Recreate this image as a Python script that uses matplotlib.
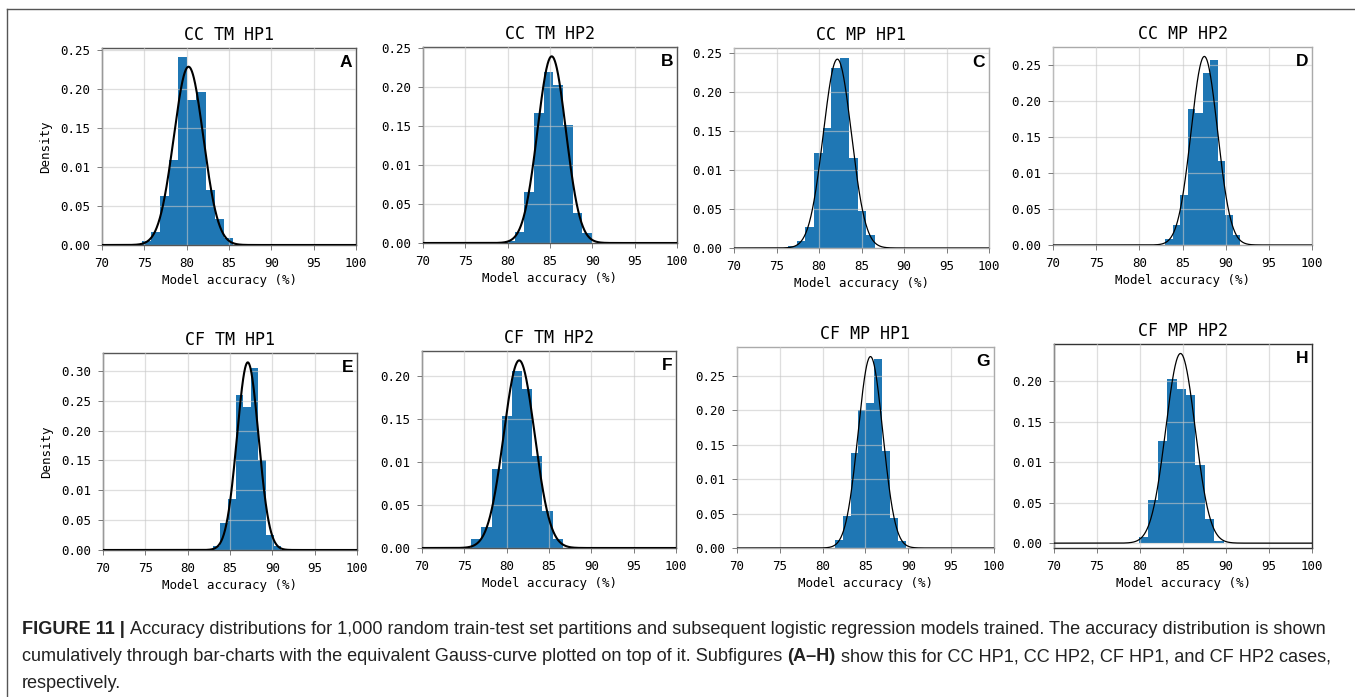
"""Accuracy distributions (histogram + equivalent Gauss curve), 8 panels."""

import matplotlib
matplotlib.use("Agg")
import matplotlib.pyplot as plt
import numpy as np
from matplotlib.lines import Line2D

W, H = 1355, 697

titles = ["CC TM HP1", "CC TM HP2", "CC MP HP1", "CC MP HP2",
          "CF TM HP1", "CF TM HP2", "CF MP HP1", "CF MP HP2"]
letters = ["A", "B", "C", "D", "E", "F", "G", "H"]

# histogram bins: first edge, bin width, densities
bin_start = [74.72, 79.67, 76.35, 82.97, 82.98, 75.82, 81.41, 79.87]
bin_width = [1.073, 1.145, 1.024, 0.873, 0.897, 1.201, 0.922, 1.097]
heights = [
    [0.005, 0.017, 0.063, 0.109, 0.241, 0.186, 0.197, 0.071, 0.033, 0.009],
    [0.003, 0.014, 0.065, 0.166, 0.219, 0.202, 0.151, 0.039, 0.013],
    [0.003, 0.009, 0.027, 0.122, 0.154, 0.231, 0.244, 0.115, 0.048, 0.017],
    [0.009, 0.028, 0.070, 0.188, 0.183, 0.239, 0.256, 0.116, 0.042, 0.014],
    [0.006, 0.045, 0.085, 0.260, 0.239, 0.305, 0.151, 0.025, 0.006],
    [0.010, 0.024, 0.092, 0.154, 0.206, 0.185, 0.107, 0.043, 0.010],
    [0.012, 0.047, 0.138, 0.201, 0.210, 0.274, 0.141, 0.043, 0.010],
    [0.007, 0.053, 0.126, 0.203, 0.190, 0.183, 0.096, 0.030, 0.003],
]
# equivalent Gauss curve (mean, std) of each distribution
gauss_mu = [80.22, 85.20, 82.16, 87.53, 87.10, 81.48, 85.58, 84.71]
gauss_sigma = [1.742, 1.669, 1.649, 1.526, 1.270, 1.825, 1.435, 1.705]

x_ticks = [70, 75, 80, 85, 90, 95, 100]
y_ticks = [0.00, 0.05, 0.10, 0.15, 0.20, 0.25, 0.30]
y_ticklabels = ["0.00", "0.05", "0.01", "0.15", "0.20", "0.25", "0.30"]

# axes boxes in pixels: left, right, top, bottom
boxes = [(102, 356, 48, 245), (423, 677, 47, 243), (734, 989, 48, 248),
         (1053, 1312, 47, 245), (103, 357, 353, 550), (422, 676, 351, 548),
         (737, 994, 347, 548), (1054, 1312, 344, 548)]
curve_lw = [1.5, 1.5, 0.9, 0.9, 1.5, 1.5, 0.9, 0.9]
spine_col = ["#555555", "#555555", "#aaaaaa", "#aaaaaa",
             "#555555", "#555555", "#aaaaaa", "#333333"]

BLUE = "#1f77b4"
MONO = "DejaVu Sans Mono"

fig = plt.figure(figsize=(W / 100, H / 100), dpi=100)

xs = np.linspace(70, 100, 800)
for i in range(8):
    l, r, t, b = boxes[i]
    ax = fig.add_axes([l / W, 1 - b / H, (r - l) / W, (b - t) / H])
    h = np.array(heights[i])
    edges = bin_start[i] + bin_width[i] * np.arange(len(h) + 1)
    ax.bar(edges[:-1], h, width=bin_width[i], align="edge", color=BLUE,
           linewidth=0, zorder=1)
    mu, sd = gauss_mu[i], gauss_sigma[i]
    pdf = np.exp(-0.5 * ((xs - mu) / sd) ** 2) / (sd * np.sqrt(2 * np.pi))
    ax.plot(xs, pdf, color="black", lw=curve_lw[i], zorder=3)

    top = 1.05 * max(h.max(), pdf.max())
    bottom = -0.006 if letters[i] == "H" else 0
    ax.set_ylim(bottom, top)
    ax.set_xlim(70, 100)
    ax.set_xticks(x_ticks)
    ax.set_xticklabels([str(v) for v in x_ticks], fontfamily=MONO, fontsize=9)
    yt = [v for v in y_ticks if v <= top]
    ax.set_yticks(yt)
    ax.set_yticklabels(y_ticklabels[:len(yt)], fontfamily=MONO, fontsize=9)
    ax.tick_params(length=3.5, width=0.6, color="#666666", pad=5)
    ax.set_axisbelow(False)
    ax.grid(True, color="#c8c8c8", lw=0.9, alpha=0.6, zorder=2)
    for s in ax.spines.values():
        s.set_color(spine_col[i])
        s.set_linewidth(1.0)
    ax.set_title(titles[i], fontfamily=MONO, fontsize=12, pad=6)
    ax.set_xlabel("Model accuracy (%)", fontfamily=MONO, fontsize=9, labelpad=3)
    if i in (0, 4):
        ax.set_ylabel("Density", fontfamily=MONO, fontsize=9, labelpad=6)
    ax.text(0.985, 0.965, letters[i], transform=ax.transAxes, ha="right",
            va="top", fontsize=12.5, fontweight="bold", family="Liberation Sans",
            zorder=5)

# frame lines of the figure page
fig.add_artist(Line2D([7 / W, 7 / W], [0, 1 - 9 / H], color="#555555", lw=1))
fig.add_artist(Line2D([7 / W, 1], [1 - 9 / H, 1 - 9 / H], color="#555555", lw=1))

# caption with bold runs
cap_lines = [
    [("FIGURE 11 | ", "bold"),
     ("Accuracy distributions for 1,000 random train-test set partitions and "
      "subsequent logistic regression models trained. The accuracy distribution "
      "is shown", "normal")],
    [("cumulatively through bar-charts with the equivalent Gauss-curve plotted "
      "on top of it. Subfigures ", "normal"), ("(A\u2013H)", "bold"),
     (" show this for CC HP1, CC HP2, CF HP1, and CF HP2 cases,", "normal")],
    [("respectively.", "normal")],
]
cap_base = [634, 661, 688]
renderer = fig.canvas.get_renderer()


def run_width(runs, fs):
    tot = 0
    for txt, wt in runs:
        t = fig.text(0, 0, txt, fontsize=fs, fontweight=wt,
                     family="Liberation Sans")
        tot += t.get_window_extent(renderer).width
        t.remove()
    return tot


fs = 10 * 1314 / run_width(cap_lines[0], 10)
for runs, yb in zip(cap_lines, cap_base):
    x = 22
    for txt, wt in runs:
        t = fig.text(x / W, 1 - yb / H, txt, fontsize=fs, fontweight=wt,
                     family="Liberation Sans", va="baseline", ha="left",
                     color="#222222")
        x += t.get_window_extent(renderer).width

fig.savefig("out.png", dpi=100)
